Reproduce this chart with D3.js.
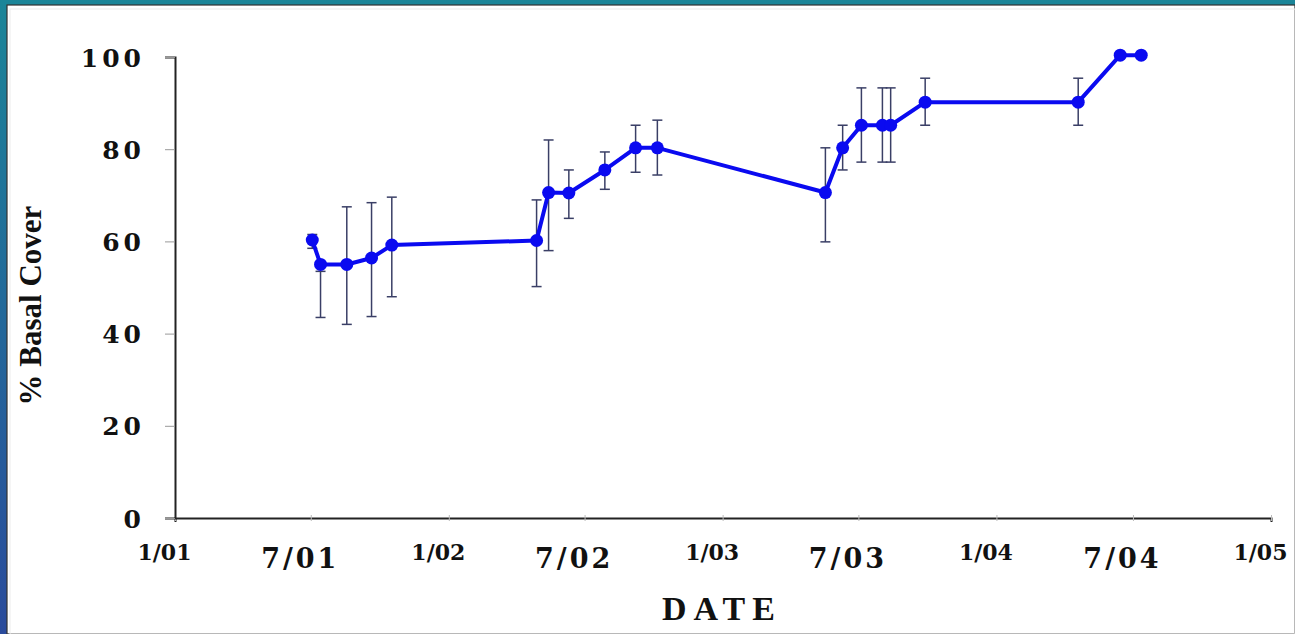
<!DOCTYPE html>
<html>
<head>
<meta charset="utf-8">
<script src="https://cdn.jsdelivr.net/npm/d3@7"></script>
<style>
  html, body { margin: 0; padding: 0; background: #fff; }
  svg { display: block; }
  text { font-family: 'Liberation Serif', 'DejaVu Serif', serif; font-weight: bold; fill: #111; }
  .tick text { font-family: 'DejaVu Serif', 'Liberation Serif', serif; }
</style>
</head>
<body>
<svg id="chart"></svg>
<script>
// sample dates and % basal cover with error bar ends
const dates = [
  '2001-07-03', '2001-07-14', '2001-08-18', '2001-09-20', '2001-10-17',
  '2002-04-28', '2002-05-14', '2002-06-10', '2002-07-28', '2002-09-07', '2002-10-06',
  '2003-05-18', '2003-06-10', '2003-07-05', '2003-08-02', '2003-08-13', '2003-09-28',
  '2004-04-19', '2004-06-14', '2004-07-12'
]
const cover = [60.3, 55, 55, 56.4, 59.2, 60.2, 70.6, 70.5, 75.5, 80.3, 80.3, 70.6, 80.3, 85.2, 85.2, 85.2, 90.2, 90.2, 100.4, 100.4]
const errLow = [58.5, 43.5, 42, 43.7, 48, 50.2, 58, 65, 71.3, 75, 74.4, 59.9, 75.5, 77.2, 77.2, 77.2, 85.2, 85.2, null, null]
const errHigh = [61.5, 53.5, 67.5, 68.4, 69.6, 69, 82, 75.5, 79.4, 85.2, 86.3, 80.3, 85.2, 93.3, 93.3, 93.3, 95.4, 95.4, null, null]

const xTicks = ['2001-01-01', '2001-07-01', '2002-01-01', '2002-07-01', '2003-01-01', '2003-07-01', '2004-01-01', '2004-07-01', '2005-01-01']
const xTickLabels = ['1/01', '7/01', '1/02', '7/02', '1/03', '7/03', '1/04', '7/04', '1/05']
const yTicks = [0, 20, 40, 60, 80, 100]

const width = 1295
const height = 634
const parse = d3.utcParse('%Y-%m-%d')

const svg = d3.select('#chart').attr('width', width).attr('height', height)

// slide frame
const grad = svg.append('defs').append('linearGradient')
  .attr('id', 'frame').attr('x1', 0).attr('y1', 0).attr('x2', 0).attr('y2', 1)
grad.append('stop').attr('offset', '0%').attr('stop-color', '#1b8598')
grad.append('stop').attr('offset', '100%').attr('stop-color', '#2a4b9c')
svg.append('rect').attr('width', width).attr('height', height).attr('fill', 'url(#frame)')
svg.append('rect').attr('x', 7).attr('y', 5).attr('width', width - 7).attr('height', height - 5)
  .attr('fill', '#fff').attr('stroke', '#333').attr('stroke-width', 1.2)
svg.append('rect').attr('x', 10).attr('y', 9).attr('width', width - 10).attr('height', height - 9)
  .attr('fill', 'none').attr('stroke', '#ececec').attr('stroke-width', 1)

const x = d3.scaleUtc()
  .domain([parse(xTicks[0]), parse(xTicks[xTicks.length - 1])])
  .range([175, 1271])
const y = d3.scaleLinear().domain([0, 100]).range([518, 57])

const data = dates.map((d, i) => ({
  date: parse(d), value: cover[i], lo: errLow[i], hi: errHigh[i]
}))

// axes
const xAxis = svg.append('g').attr('transform', `translate(0,${y(0)})`)
  .call(d3.axisBottom(x).tickValues(xTicks.map(parse)).tickSize(4).tickFormat(''))
xAxis.select('.domain').attr('stroke', '#222').attr('stroke-width', 2)
xAxis.selectAll('.tick line').attr('stroke', '#bbb').attr('y1', -3).attr('y2', 3)

// labels sit a little left of their ticks in the original
xAxis.selectAll('.tick').append('text')
  .attr('fill', '#111')
  .attr('x', -11)
  .attr('y', (d, i) => i % 2 ? 50 : 42)
  .attr('text-anchor', 'middle')
  .style('font-size', (d, i) => i % 2 ? '27px' : '22px')
  .style('letter-spacing', (d, i) => i % 2 ? '3px' : '0px')
  .text((d, i) => xTickLabels[i])

const yAxis = svg.append('g').attr('transform', `translate(${x.range()[0]},0)`)
  .call(d3.axisLeft(y).tickValues(yTicks).tickSize(10).tickFormat(''))
yAxis.select('.domain').attr('stroke', '#222').attr('stroke-width', 2)
yAxis.selectAll('.tick line').attr('stroke', '#999')

yAxis.selectAll('.tick').append('text')
  .attr('fill', '#111')
  .attr('x', -30)
  .attr('dy', '0.36em')
  .attr('text-anchor', 'end')
  .style('font-size', '25px')
  .style('letter-spacing', '4px')
  .text(d => d)

// axis titles
svg.append('text')
  .attr('transform', `translate(41,${(y(0) + y(100)) / 2 + 18}) rotate(-90)`)
  .attr('text-anchor', 'middle')
  .style('font-size', '31px')
  .text('% Basal Cover')

svg.append('text')
  .attr('x', 722).attr('y', 620)
  .attr('text-anchor', 'middle')
  .style('font-size', '34px')
  .style('letter-spacing', '7px')
  .text('DATE')

// error bars
const bars = svg.append('g').selectAll('g')
  .data(data.filter(d => d.lo != null))
  .join('g')
  .attr('stroke', '#3a3f66')
  .attr('stroke-width', 1.5)

bars.append('line')
  .attr('x1', d => x(d.date)).attr('x2', d => x(d.date))
  .attr('y1', d => y(d.lo)).attr('y2', d => y(d.hi))
bars.append('line')
  .attr('x1', d => x(d.date) - 5).attr('x2', d => x(d.date) + 5)
  .attr('y1', d => y(d.lo)).attr('y2', d => y(d.lo))
bars.append('line')
  .attr('x1', d => x(d.date) - 5).attr('x2', d => x(d.date) + 5)
  .attr('y1', d => y(d.hi)).attr('y2', d => y(d.hi))

// series
const line = d3.line().x(d => x(d.date)).y(d => y(d.value))
svg.append('path')
  .datum(data)
  .attr('d', line)
  .attr('fill', 'none')
  .attr('stroke', '#0a0af0')
  .attr('stroke-width', 4)
  .attr('stroke-linejoin', 'round')

svg.append('g').selectAll('circle')
  .data(data)
  .join('circle')
  .attr('cx', d => x(d.date))
  .attr('cy', d => y(d.value))
  .attr('r', 6.5)
  .attr('fill', '#0a0af0')
</script>
</body>
</html>
